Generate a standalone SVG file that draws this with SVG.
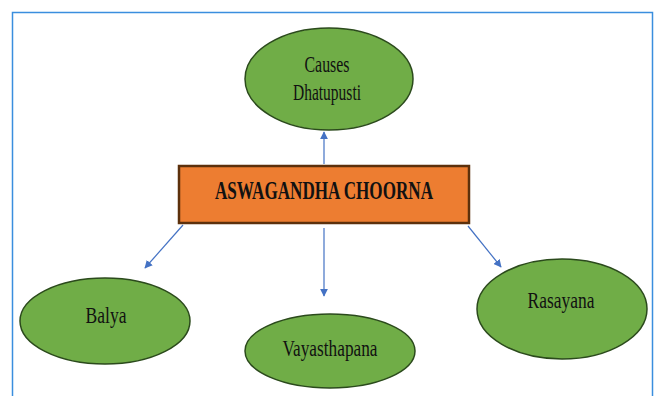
<svg xmlns="http://www.w3.org/2000/svg" width="660" height="396" viewBox="0 0 660 396">
<style>
.frame{fill:none;stroke:#3a8ede;stroke-width:1.5}
.node{fill:#70ad47;stroke:#2b4a1c;stroke-width:1.5}
.box{fill:#ed7d31;stroke:#5c300c;stroke-width:2.5}
.lbl{font-family:"Liberation Serif","Times New Roman",serif;font-size:23px;fill:#111;text-anchor:middle}
.title{font-family:"Liberation Serif","Times New Roman",serif;font-size:25px;font-weight:bold;fill:#111;text-anchor:middle}
.conn line{stroke:#4472c4;stroke-width:1.2;marker-end:url(#ah)}
</style>
<defs>
<marker id="ah" viewBox="0 0 10 10" refX="9" refY="5" markerWidth="8" markerHeight="8" markerUnits="userSpaceOnUse" orient="auto">
<path d="M0,0 L10,5 L0,10 z" fill="#4472c4"/>
</marker>
</defs>
<rect width="660" height="396" fill="#fff"/>
<rect class="frame" x="12.5" y="12.5" width="640" height="400"/>
<g class="conn">
<line x1="324" y1="164" x2="324" y2="132"/>
<line x1="183" y1="225" x2="145" y2="268"/>
<line x1="324" y1="228" x2="324" y2="296"/>
<line x1="468" y1="226" x2="501" y2="267"/>
</g>
<g id="causes">
<ellipse class="node" cx="329" cy="79" rx="84" ry="51"/>
<text class="lbl" x="327" y="72" textLength="45" lengthAdjust="spacingAndGlyphs">Causes</text>
<text class="lbl" x="327" y="100" textLength="68" lengthAdjust="spacingAndGlyphs">Dhatupusti</text>
</g>
<g id="aswagandha">
<rect class="box" x="179" y="166" width="290" height="57"/>
<text class="title" x="324" y="199" textLength="218" lengthAdjust="spacingAndGlyphs">ASWAGANDHA CHOORNA</text>
</g>
<g id="balya">
<ellipse class="node" cx="105" cy="321" rx="85" ry="43"/>
<text class="lbl" x="106" y="323" textLength="41" lengthAdjust="spacingAndGlyphs">Balya</text>
</g>
<g id="vayasthapana">
<ellipse class="node" cx="330" cy="351" rx="85" ry="37"/>
<text class="lbl" x="330" y="356" textLength="95" lengthAdjust="spacingAndGlyphs">Vayasthapana</text>
</g>
<g id="rasayana">
<ellipse class="node" cx="562" cy="309" rx="85" ry="50"/>
<text class="lbl" x="561" y="308" textLength="67" lengthAdjust="spacingAndGlyphs">Rasayana</text>
</g>
</svg>
